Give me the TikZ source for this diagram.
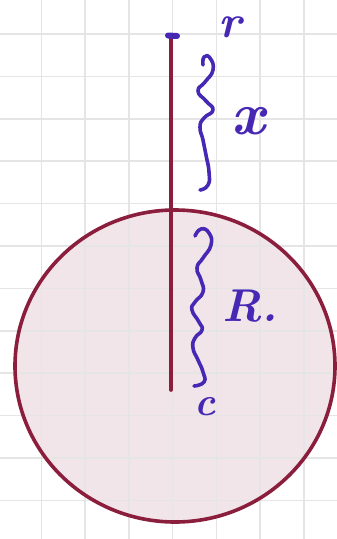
\documentclass[tikz,border=0pt]{standalone}
\usetikzlibrary{shapes.geometric}
\begin{document}
\begin{tikzpicture}[x=1pt,y=-1pt,
  gridline/.style={draw=black!10,line width=1.6pt},
  maroon/.style={draw=ink,line width=3.6pt},
  bluepen/.style={draw=pen,line width=3.6pt,line cap=round,line join=round},
  hand/.style={text=pen,inner sep=0pt}]
\definecolor{ink}{HTML}{8A1E3C}
\definecolor{pen}{HTML}{4628B4}
\definecolor{blush}{HTML}{F2E5EA}
\useasboundingbox (0,0) rectangle (337,539);
\fill[white] (0,0) rectangle (337,539);
% disc fill
\fill[blush] (175,366) ellipse [x radius=160,y radius=156];
% grid
\foreach \gx in {41.5,85.2,128.9,172.6,216.3,260,303.7}
  \draw[gridline] (\gx,0) -- (\gx,539);
\foreach \gy in {34,76.4,118.8,161.2,203.6,246,288.4,330.8,373.2,415.6,458,500.4}
  \draw[gridline] (0,\gy) -- (337,\gy);
% disc outline
\node[draw=ink,line width=3.6pt,ellipse,minimum width=320pt,minimum height=312pt,inner sep=0pt] (disc) at (175,366) {};
% vertical rod
\coordinate (top) at (171,38);
\coordinate (bot) at (171,390);
\draw[maroon,line cap=round] (top) -- (bot);
% blue tip
\coordinate (tipL) at (168,35.5);
\coordinate (tipR) at (177,36);
\draw[pen,line width=6pt,line cap=round] (tipL) -- (tipR);
% upper wavy brace
\draw[bluepen] plot[smooth,tension=0.9] coordinates
  {(203,65) (204,57) (210,58) (213,70) (205,82) (198,91) (206,101) (213,110) (204,118) (200,127) (203,140) (206,155) (209,172) (208,185) (200,190)};
% lower wavy brace
\draw[bluepen] plot[smooth,tension=0.9] coordinates
  {(195,236) (201,229) (209,233) (211,245) (203,258) (197,268) (201,280) (203,292) (195,302) (192,310) (199,322) (202,330) (195,338) (193,348) (198,360) (203,372) (204,382) (194,386)};
% labels
\node[hand,font=\fontsize{46}{46}\selectfont\bfseries\itshape] (lr) at (230,27) {r};
\node[hand,font=\fontsize{60}{60}\selectfont\bfseries\itshape] (lx) at (248,121) {x};
\node[hand,font=\fontsize{46}{46}\selectfont\bfseries\itshape] (lR) at (250,306) {R.};
\node[hand,font=\fontsize{40}{40}\selectfont\bfseries\itshape] (lc) at (205,407) {c};
\end{tikzpicture}
\end{document}
